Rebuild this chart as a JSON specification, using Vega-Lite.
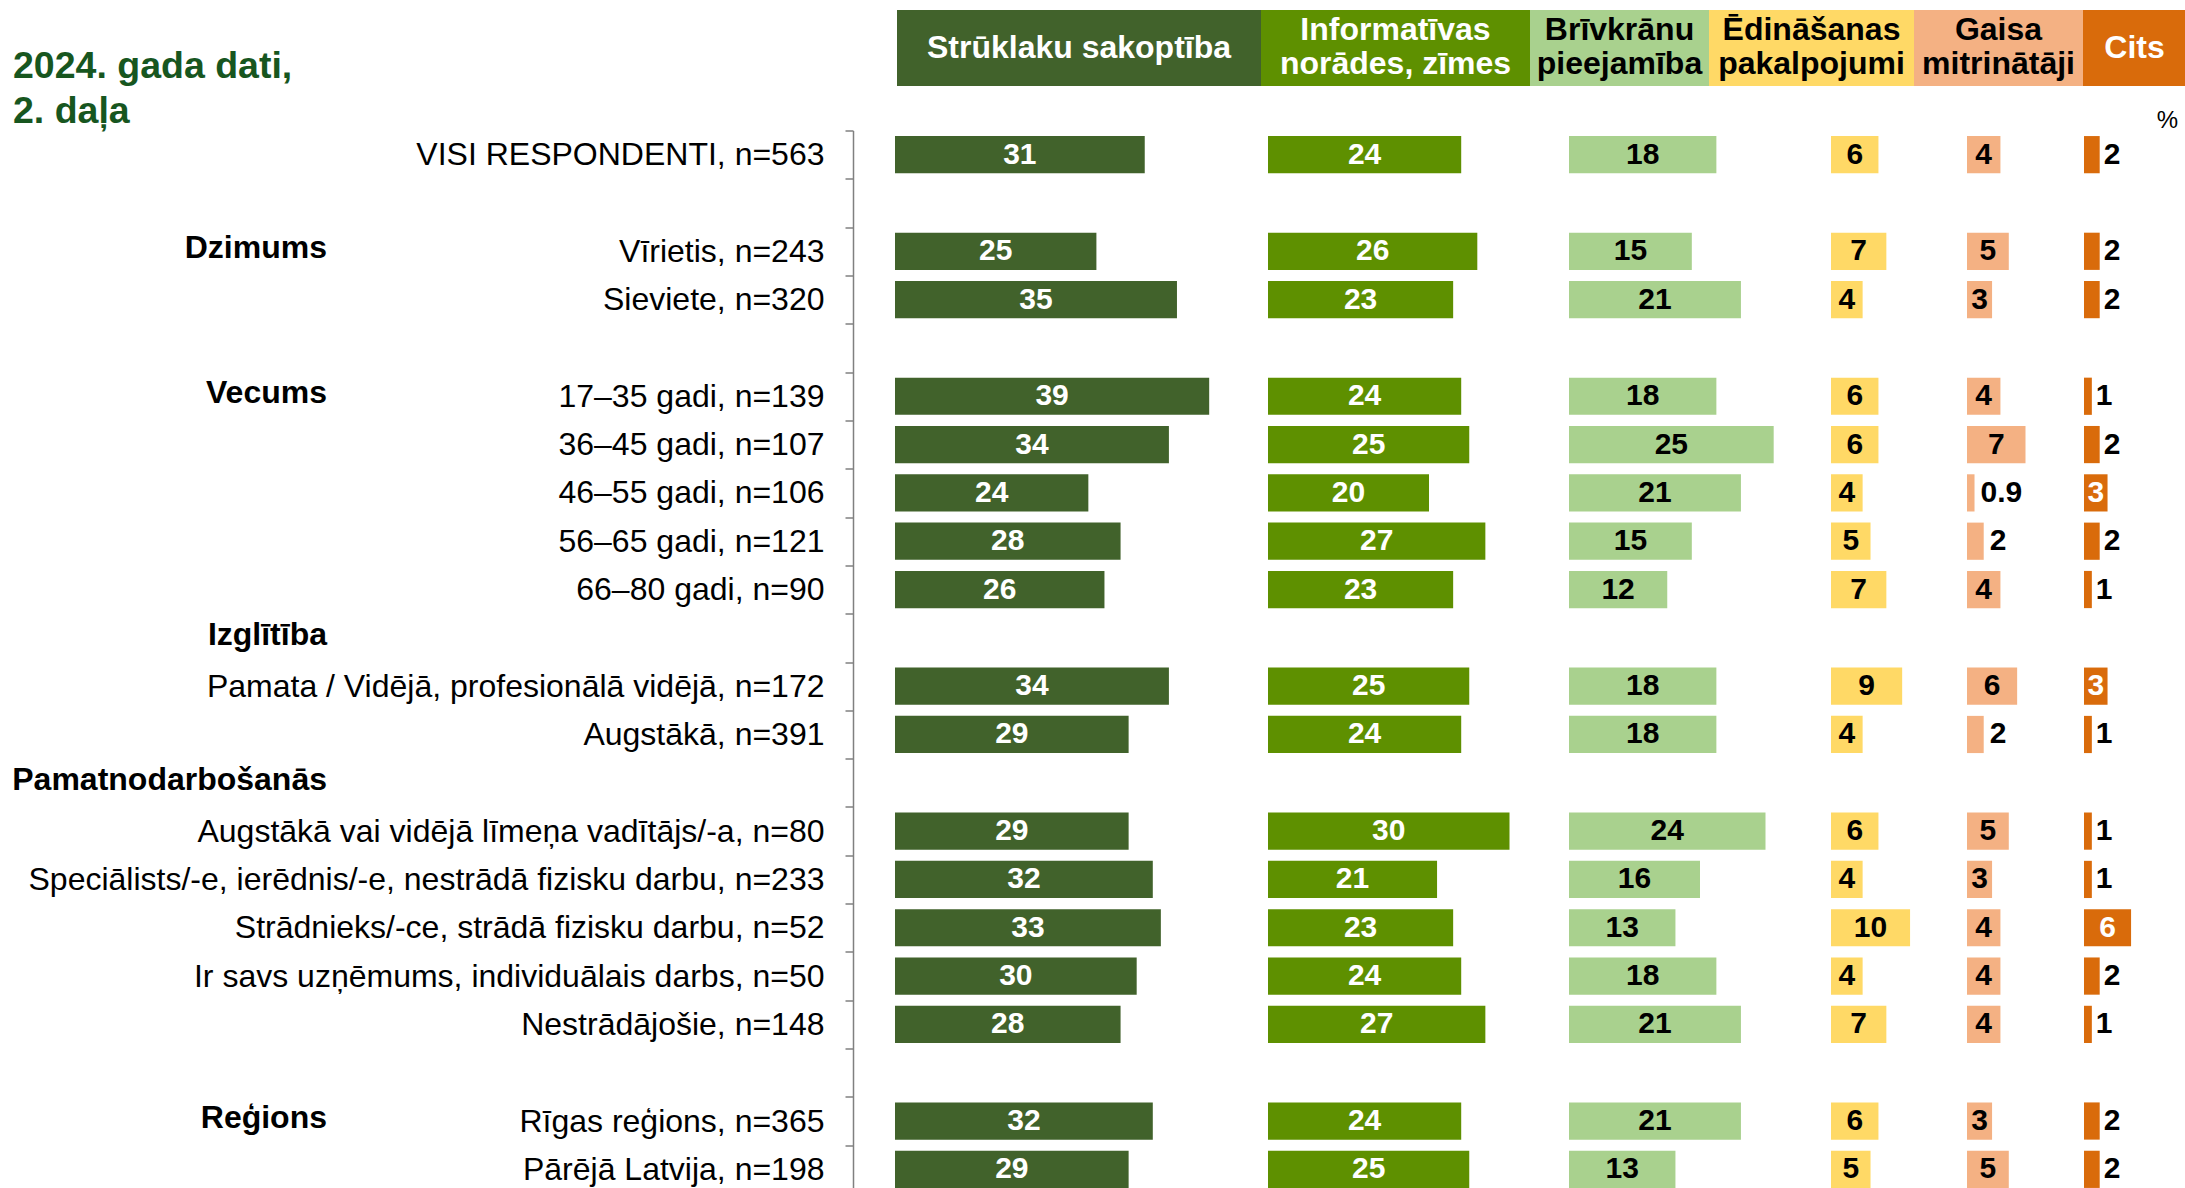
{
  "$schema": "https://vega.github.io/schema/vega-lite/v6.json",
  "padding": {"left": 12, "top": 10, "right": 0, "bottom": 0},
  "background": "white",
  "config": {"font": "Liberation Sans", "view": {"stroke": null}, "axis": {"grid": false}},
  "datasets": {
    "t": [
      {"r": "VISI RESPONDENTI, n=563", "s": 31, "i": 24, "b": 18, "e": 6, "g": 4, "c": 2},
      {"r": "Vīrietis, n=243", "s": 25, "i": 26, "b": 15, "e": 7, "g": 5, "c": 2},
      {"r": "Sieviete, n=320", "s": 35, "i": 23, "b": 21, "e": 4, "g": 3, "c": 2},
      {"r": "17–35 gadi, n=139", "s": 39, "i": 24, "b": 18, "e": 6, "g": 4, "c": 1},
      {"r": "36–45 gadi, n=107", "s": 34, "i": 25, "b": 25, "e": 6, "g": 7, "c": 2},
      {"r": "46–55 gadi, n=106", "s": 24, "i": 20, "b": 21, "e": 4, "g": 0.9, "c": 3},
      {"r": "56–65 gadi, n=121", "s": 28, "i": 27, "b": 15, "e": 5, "g": 2, "c": 2},
      {"r": "66–80 gadi, n=90", "s": 26, "i": 23, "b": 12, "e": 7, "g": 4, "c": 1},
      {"r": "Pamata / Vidējā, profesionālā vidējā, n=172", "s": 34, "i": 25, "b": 18, "e": 9, "g": 6, "c": 3},
      {"r": "Augstākā, n=391", "s": 29, "i": 24, "b": 18, "e": 4, "g": 2, "c": 1},
      {"r": "Augstākā vai vidējā līmeņa vadītājs/-a, n=80", "s": 29, "i": 30, "b": 24, "e": 6, "g": 5, "c": 1},
      {"r": "Speciālists/-e, ierēdnis/-e, nestrādā fizisku darbu, n=233", "s": 32, "i": 21, "b": 16, "e": 4, "g": 3, "c": 1},
      {"r": "Strādnieks/-ce, strādā fizisku darbu, n=52", "s": 33, "i": 23, "b": 13, "e": 10, "g": 4, "c": 6},
      {"r": "Ir savs uzņēmums, individuālais darbs, n=50", "s": 30, "i": 24, "b": 18, "e": 4, "g": 4, "c": 2},
      {"r": "Nestrādājošie, n=148", "s": 28, "i": 27, "b": 21, "e": 7, "g": 4, "c": 1},
      {"r": "Rīgas reģions, n=365", "s": 32, "i": 24, "b": 21, "e": 6, "g": 3, "c": 2},
      {"r": "Pārējā Latvija, n=198", "s": 29, "i": 25, "b": 13, "e": 5, "g": 5, "c": 2}
    ],
    "grp": [
      {"r": "Vīrietis, n=243", "g": "Dzimums"},
      {"r": "17–35 gadi, n=139", "g": "Vecums"},
      {"r": "   ", "g": "Izglītība"},
      {"r": "    ", "g": "Pamatnodarbošanās"},
      {"r": "Rīgas reģions, n=365", "g": "Reģions"}
    ]
  },
  "bounds": "flush",
  "spacing": 120.5,
  "vconcat": [
    {
      "bounds": "flush",
      "spacing": 0,
      "hconcat": [
        {"width": 884, "height": 76, "data": {"values": [{}]},
         "mark": {"type": "text", "text": ["2024. gada dati,", "2. daļa"], "x": 0, "y": "height", "dy": -19, "align": "left", "baseline": "middle", "fontSize": 37.5, "fontWeight": "bold", "fill": "#17561f", "lineHeight": 45}},
        {"width": 364, "height": 76, "view": {"fill": "#41622b", "stroke": null}, "data": {"values": [{}]},
         "mark": {"type": "text", "text": "Strūklaku sakoptība", "fontSize": 32, "fontWeight": "bold", "fill": "white", "align": "center", "baseline": "middle"}},
        {"width": 269, "height": 76, "view": {"fill": "#5e9000", "stroke": null}, "data": {"values": [{}]},
         "mark": {"type": "text", "text": ["Informatīvas", "norādes, zīmes"], "dy": -18, "fontSize": 32, "fontWeight": "bold", "fill": "white", "align": "center", "baseline": "middle", "lineHeight": 34}},
        {"width": 179, "height": 76, "view": {"fill": "#a9d18e", "stroke": null}, "data": {"values": [{}]},
         "mark": {"type": "text", "text": ["Brīvkrānu", "pieejamība"], "dy": -18, "fontSize": 32, "fontWeight": "bold", "fill": "black", "align": "center", "baseline": "middle", "lineHeight": 34}},
        {"width": 205, "height": 76, "view": {"fill": "#ffd966", "stroke": null}, "data": {"values": [{}]},
         "mark": {"type": "text", "text": ["Ēdināšanas", "pakalpojumi"], "dy": -18, "fontSize": 32, "fontWeight": "bold", "fill": "black", "align": "center", "baseline": "middle", "lineHeight": 34}},
        {"width": 169, "height": 76, "view": {"fill": "#f4b183", "stroke": null}, "data": {"values": [{}]},
         "mark": {"type": "text", "text": ["Gaisa", "mitrinātāji"], "dy": -18, "fontSize": 32, "fontWeight": "bold", "fill": "black", "align": "center", "baseline": "middle", "lineHeight": 34}},
        {"width": 103, "height": 76, "view": {"fill": "#d96b0b", "stroke": null}, "data": {"values": [{}]},
         "layer": [
           {"mark": {"type": "text", "text": "Cits", "fontSize": 32, "fontWeight": "bold", "fill": "white", "align": "center", "baseline": "middle"}},
           {"mark": {"type": "text", "text": "%", "x": "width", "y": "height", "dx": -8, "dy": 35, "fontSize": 24, "fill": "black", "align": "right", "baseline": "middle"}}
         ]}
      ]
    },
    {
      "bounds": "flush",
      "spacing": 568,
      "hconcat": [
        {"width": 314, "height": 1063, "data": {"name": "grp"},
         "mark": {"type": "text", "x": "width", "align": "right", "baseline": "middle", "fontSize": 32, "fontWeight": "bold", "fill": "black", "dy": -3},
         "encoding": {
           "y": {"field": "r", "type": "nominal", "scale": {"type": "band", "paddingInner": 0, "paddingOuter": 0, "domain": ["VISI RESPONDENTI, n=563", " ", "Vīrietis, n=243", "Sieviete, n=320", "  ", "17–35 gadi, n=139", "36–45 gadi, n=107", "46–55 gadi, n=106", "56–65 gadi, n=121", "66–80 gadi, n=90", "   ", "Pamata / Vidējā, profesionālā vidējā, n=172", "Augstākā, n=391", "    ", "Augstākā vai vidējā līmeņa vadītājs/-a, n=80", "Speciālists/-e, ierēdnis/-e, nestrādā fizisku darbu, n=233", "Strādnieks/-ce, strādā fizisku darbu, n=52", "Ir savs uzņēmums, individuālais darbs, n=50", "Nestrādājošie, n=148", "     ", "Rīgas reģions, n=365", "Pārējā Latvija, n=198"]}, "axis": null},
           "text": {"field": "g", "type": "nominal"}
         }},
        {
          "bounds": "flush",
          "spacing": 0,
          "hconcat": [
            {"width": 373, "height": 1063, "data": {"name": "t"},
             "encoding": {"y": {"field": "r", "type": "nominal", "scale": {"type": "band", "paddingInner": 0, "paddingOuter": 0, "domain": ["VISI RESPONDENTI, n=563", " ", "Vīrietis, n=243", "Sieviete, n=320", "  ", "17–35 gadi, n=139", "36–45 gadi, n=107", "46–55 gadi, n=106", "56–65 gadi, n=121", "66–80 gadi, n=90", "   ", "Pamata / Vidējā, profesionālā vidējā, n=172", "Augstākā, n=391", "    ", "Augstākā vai vidējā līmeņa vadītājs/-a, n=80", "Speciālists/-e, ierēdnis/-e, nestrādā fizisku darbu, n=233", "Strādnieks/-ce, strādā fizisku darbu, n=52", "Ir savs uzņēmums, individuālais darbs, n=50", "Nestrādājošie, n=148", "     ", "Rīgas reģions, n=365", "Pārējā Latvija, n=198"]},
               "axis": {"title": null, "offset": 42, "tickBand": "extent", "tickSize": 8, "labelPadding": 21, "labelFontSize": 32, "labelColor": "black", "labelLimit": 1500, "domainColor": "#808080", "tickColor": "#808080", "domainWidth": 1.5, "tickWidth": 1.5}}},
             "layer": [
               {"mark": {"type": "bar", "height": {"band": 0.77}, "fill": "#41622b"},
                "encoding": {"x": {"field": "s", "type": "quantitative", "scale": {"domain": [0, 46.3], "nice": false}, "axis": null}}},
               {"mark": {"type": "text", "fontSize": 30, "fontWeight": "bold", "fill": "white", "baseline": "middle", "align": "center"},
                "encoding": {"x": {"field": "s", "type": "quantitative", "scale": {"domain": [0, 92.6], "nice": false}, "axis": null}, "text": {"field": "s", "type": "quantitative"}}}
             ],
             "resolve": {"scale": {"x": "independent"}}},
            {"width": 301, "height": 1063, "data": {"name": "t"},
             "encoding": {"y": {"field": "r", "type": "nominal", "scale": {"type": "band", "paddingInner": 0, "paddingOuter": 0, "domain": ["VISI RESPONDENTI, n=563", " ", "Vīrietis, n=243", "Sieviete, n=320", "  ", "17–35 gadi, n=139", "36–45 gadi, n=107", "46–55 gadi, n=106", "56–65 gadi, n=121", "66–80 gadi, n=90", "   ", "Pamata / Vidējā, profesionālā vidējā, n=172", "Augstākā, n=391", "    ", "Augstākā vai vidējā līmeņa vadītājs/-a, n=80", "Speciālists/-e, ierēdnis/-e, nestrādā fizisku darbu, n=233", "Strādnieks/-ce, strādā fizisku darbu, n=52", "Ir savs uzņēmums, individuālais darbs, n=50", "Nestrādājošie, n=148", "     ", "Rīgas reģions, n=365", "Pārējā Latvija, n=198"]}, "axis": null}},
             "layer": [
               {"mark": {"type": "bar", "height": {"band": 0.77}, "fill": "#5e9000"},
                "encoding": {"x": {"field": "i", "type": "quantitative", "scale": {"domain": [0, 37.39], "nice": false}, "axis": null}}},
               {"mark": {"type": "text", "fontSize": 30, "fontWeight": "bold", "fill": "white", "baseline": "middle", "align": "center"},
                "encoding": {"x": {"field": "i", "type": "quantitative", "scale": {"domain": [0, 74.78], "nice": false}, "axis": null}, "text": {"field": "i", "type": "quantitative"}}}
             ],
             "resolve": {"scale": {"x": "independent"}}},
            {"width": 262, "height": 1063, "data": {"name": "t"},
             "encoding": {"y": {"field": "r", "type": "nominal", "scale": {"type": "band", "paddingInner": 0, "paddingOuter": 0, "domain": ["VISI RESPONDENTI, n=563", " ", "Vīrietis, n=243", "Sieviete, n=320", "  ", "17–35 gadi, n=139", "36–45 gadi, n=107", "46–55 gadi, n=106", "56–65 gadi, n=121", "66–80 gadi, n=90", "   ", "Pamata / Vidējā, profesionālā vidējā, n=172", "Augstākā, n=391", "    ", "Augstākā vai vidējā līmeņa vadītājs/-a, n=80", "Speciālists/-e, ierēdnis/-e, nestrādā fizisku darbu, n=233", "Strādnieks/-ce, strādā fizisku darbu, n=52", "Ir savs uzņēmums, individuālais darbs, n=50", "Nestrādājošie, n=148", "     ", "Rīgas reģions, n=365", "Pārējā Latvija, n=198"]}, "axis": null}},
             "layer": [
               {"mark": {"type": "bar", "height": {"band": 0.77}, "fill": "#a9d18e"},
                "encoding": {"x": {"field": "b", "type": "quantitative", "scale": {"domain": [0, 32.0], "nice": false}, "axis": null}}},
               {"mark": {"type": "text", "fontSize": 30, "fontWeight": "bold", "fill": "black", "baseline": "middle", "align": "center"},
                "encoding": {"x": {"field": "b", "type": "quantitative", "scale": {"domain": [0, 64.0], "nice": false}, "axis": null}, "text": {"field": "b", "type": "quantitative"}}}
             ],
             "resolve": {"scale": {"x": "independent"}}},
            {"width": 136, "height": 1063, "data": {"name": "t"},
             "encoding": {"y": {"field": "r", "type": "nominal", "scale": {"type": "band", "paddingInner": 0, "paddingOuter": 0, "domain": ["VISI RESPONDENTI, n=563", " ", "Vīrietis, n=243", "Sieviete, n=320", "  ", "17–35 gadi, n=139", "36–45 gadi, n=107", "46–55 gadi, n=106", "56–65 gadi, n=121", "66–80 gadi, n=90", "   ", "Pamata / Vidējā, profesionālā vidējā, n=172", "Augstākā, n=391", "    ", "Augstākā vai vidējā līmeņa vadītājs/-a, n=80", "Speciālists/-e, ierēdnis/-e, nestrādā fizisku darbu, n=233", "Strādnieks/-ce, strādā fizisku darbu, n=52", "Ir savs uzņēmums, individuālais darbs, n=50", "Nestrādājošie, n=148", "     ", "Rīgas reģions, n=365", "Pārējā Latvija, n=198"]}, "axis": null}},
             "layer": [
               {"mark": {"type": "bar", "height": {"band": 0.77}, "fill": "#ffd966"},
                "encoding": {"x": {"field": "e", "type": "quantitative", "scale": {"domain": [0, 17.2], "nice": false}, "axis": null}}},
               {"mark": {"type": "text", "fontSize": 30, "fontWeight": "bold", "fill": "black", "baseline": "middle", "align": "center"},
                "encoding": {"x": {"field": "e", "type": "quantitative", "scale": {"domain": [0, 34.4], "nice": false}, "axis": null}, "text": {"field": "e", "type": "quantitative"}}}
             ],
             "resolve": {"scale": {"x": "independent"}}},
            {"width": 117, "height": 1063, "data": {"name": "t"},
             "encoding": {"y": {"field": "r", "type": "nominal", "scale": {"type": "band", "paddingInner": 0, "paddingOuter": 0, "domain": ["VISI RESPONDENTI, n=563", " ", "Vīrietis, n=243", "Sieviete, n=320", "  ", "17–35 gadi, n=139", "36–45 gadi, n=107", "46–55 gadi, n=106", "56–65 gadi, n=121", "66–80 gadi, n=90", "   ", "Pamata / Vidējā, profesionālā vidējā, n=172", "Augstākā, n=391", "    ", "Augstākā vai vidējā līmeņa vadītājs/-a, n=80", "Speciālists/-e, ierēdnis/-e, nestrādā fizisku darbu, n=233", "Strādnieks/-ce, strādā fizisku darbu, n=52", "Ir savs uzņēmums, individuālais darbs, n=50", "Nestrādājošie, n=148", "     ", "Rīgas reģions, n=365", "Pārējā Latvija, n=198"]}, "axis": null}},
             "layer": [
               {"mark": {"type": "bar", "height": {"band": 0.77}, "fill": "#f4b183"},
                "encoding": {"x": {"field": "g", "type": "quantitative", "scale": {"domain": [0, 14.0], "nice": false}, "axis": null}}},
               {"transform": [{"filter": "datum.g > 2"}],
                "mark": {"type": "text", "fontSize": 30, "fontWeight": "bold", "fill": "black", "baseline": "middle", "align": "center"},
                "encoding": {"x": {"field": "g", "type": "quantitative", "scale": {"domain": [0, 28.0], "nice": false}, "axis": null}, "text": {"field": "g", "type": "quantitative"}}},
               {"transform": [{"filter": "datum.g <= 2"}],
                "mark": {"type": "text", "fontSize": 30, "fontWeight": "bold", "fill": "black", "baseline": "middle", "align": "left", "dx": 6},
                "encoding": {"x": {"field": "g", "type": "quantitative", "scale": {"domain": [0, 14.0], "nice": false}, "axis": null}, "text": {"field": "g", "type": "quantitative"}}}
             ],
             "resolve": {"scale": {"x": "independent"}}},
            {"width": 102, "height": 1063, "data": {"name": "t"},
             "encoding": {"y": {"field": "r", "type": "nominal", "scale": {"type": "band", "paddingInner": 0, "paddingOuter": 0, "domain": ["VISI RESPONDENTI, n=563", " ", "Vīrietis, n=243", "Sieviete, n=320", "  ", "17–35 gadi, n=139", "36–45 gadi, n=107", "46–55 gadi, n=106", "56–65 gadi, n=121", "66–80 gadi, n=90", "   ", "Pamata / Vidējā, profesionālā vidējā, n=172", "Augstākā, n=391", "    ", "Augstākā vai vidējā līmeņa vadītājs/-a, n=80", "Speciālists/-e, ierēdnis/-e, nestrādā fizisku darbu, n=233", "Strādnieks/-ce, strādā fizisku darbu, n=52", "Ir savs uzņēmums, individuālais darbs, n=50", "Nestrādājošie, n=148", "     ", "Rīgas reģions, n=365", "Pārējā Latvija, n=198"]}, "axis": null}},
             "layer": [
               {"mark": {"type": "bar", "height": {"band": 0.77}, "fill": "#d96b0b"},
                "encoding": {"x": {"field": "c", "type": "quantitative", "scale": {"domain": [0, 13.0], "nice": false}, "axis": null}}},
               {"transform": [{"filter": "datum.c > 2"}],
                "mark": {"type": "text", "fontSize": 30, "fontWeight": "bold", "fill": "white", "baseline": "middle", "align": "center"},
                "encoding": {"x": {"field": "c", "type": "quantitative", "scale": {"domain": [0, 26.0], "nice": false}, "axis": null}, "text": {"field": "c", "type": "quantitative"}}},
               {"transform": [{"filter": "datum.c <= 2"}],
                "mark": {"type": "text", "fontSize": 30, "fontWeight": "bold", "fill": "black", "baseline": "middle", "align": "left", "dx": 4},
                "encoding": {"x": {"field": "c", "type": "quantitative", "scale": {"domain": [0, 13.0], "nice": false}, "axis": null}, "text": {"field": "c", "type": "quantitative"}}}
             ],
             "resolve": {"scale": {"x": "independent"}}}
          ]
        }
      ]
    }
  ]
}
